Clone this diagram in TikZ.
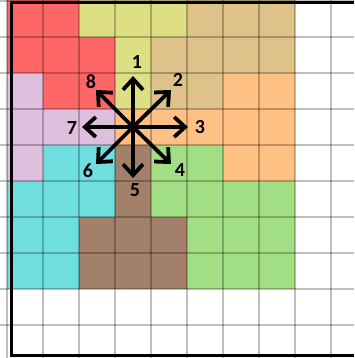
\documentclass[tikz,border=0pt]{standalone}
\usepackage{fontspec}
\setmainfont{Carlito}
\usetikzlibrary{arrows.meta}
\definecolor{cred}{HTML}{FF6666}
\definecolor{cyel}{HTML}{DEDE84}
\definecolor{ctan}{HTML}{DEC28A}
\definecolor{corg}{HTML}{FFC084}
\definecolor{clil}{HTML}{DEC0DE}
\definecolor{ccya}{HTML}{6EDEDE}
\definecolor{cbro}{HTML}{A3806A}
\definecolor{cgrn}{HTML}{A2DE84}
\begin{document}
\begin{tikzpicture}[x=1pt,y=-1pt,
  gridline/.style={draw=black,draw opacity=.25,line width=2pt},
  frame/.style={draw=black,line width=3pt},
  dirarrow/.style={line width=3.8pt,-{Straight Barb[length=11pt,width=20pt]}},
  lbl/.style={font=\bfseries\fontsize{20}{20}\selectfont,inner sep=0pt}]
\useasboundingbox (0,0) rectangle (354,358);
\clip (0,0) rectangle (354,358);
\fill[white] (0,0) rectangle (354,358);
% coloured cells: colour / column / row
\foreach \c/\i/\j in {
  cred/0/0,cred/1/0,cyel/2/0,cyel/3/0,cyel/4/0,ctan/5/0,ctan/6/0,ctan/7/0,
  cred/0/1,cred/1/1,cred/2/1,cyel/3/1,ctan/4/1,ctan/5/1,ctan/6/1,ctan/7/1,
  clil/0/2,cred/1/2,cred/2/2,cyel/3/2,ctan/4/2,ctan/5/2,corg/6/2,corg/7/2,
  clil/0/3,clil/1/3,clil/2/3,corg/3/3,corg/4/3,corg/5/3,corg/6/3,corg/7/3,
  clil/0/4,ccya/1/4,ccya/2/4,cbro/3/4,cgrn/4/4,cgrn/5/4,corg/6/4,corg/7/4,
  ccya/0/5,ccya/1/5,ccya/2/5,cbro/3/5,cgrn/4/5,cgrn/5/5,cgrn/6/5,cgrn/7/5,
  ccya/0/6,ccya/1/6,cbro/2/6,cbro/3/6,cbro/4/6,cgrn/5/6,cgrn/6/6,cgrn/7/6,
  ccya/0/7,ccya/1/7,cbro/2/7,cbro/3/7,cbro/4/7,cgrn/5/7,cgrn/6/7,cgrn/7/7}
  {\fill[\c] ({7+36*\i},{1+36*\j}) rectangle ++(36,36);}
% the coloured area reaches the top edge
\fill[cred] (7,0) rectangle (79,1);
\fill[cyel] (79,0) rectangle (187,1);
\fill[ctan] (187,0) rectangle (295,1);
% grid
\foreach \k in {0,...,10} {
  \draw[gridline] ({7+36*\k},0) -- ({7+36*\k},358);
  \draw[gridline] (0,{1+36*\k}) -- (354,{1+36*\k});
}
% frame
\draw[frame] (354,3) -- (11,3) -- (11,355) -- (354,355);
% direction arrows
\coordinate (o) at (133,127);
\coordinate (t1) at (133,76);
\coordinate (t2) at (171,90);
\coordinate (t3) at (188,127);
\coordinate (t4) at (171,164);
\coordinate (t5) at (133,178);
\coordinate (t6) at (96,164);
\coordinate (t7) at (82,127);
\coordinate (t8) at (96,90);
\foreach \n in {1,...,8} \draw[dirarrow] (o) -- (t\n);
\node[lbl] (l1) at (137,62) {1};
\node[lbl] (l2) at (178,80) {2};
\node[lbl] (l3) at (200,127) {3};
\node[lbl] (l4) at (180,170) {4};
\node[lbl] (l5) at (135,190) {5};
\node[lbl] (l6) at (88,171) {6};
\node[lbl] (l7) at (72,128) {7};
\node[lbl] (l8) at (91,82) {8};
\end{tikzpicture}
\end{document}
